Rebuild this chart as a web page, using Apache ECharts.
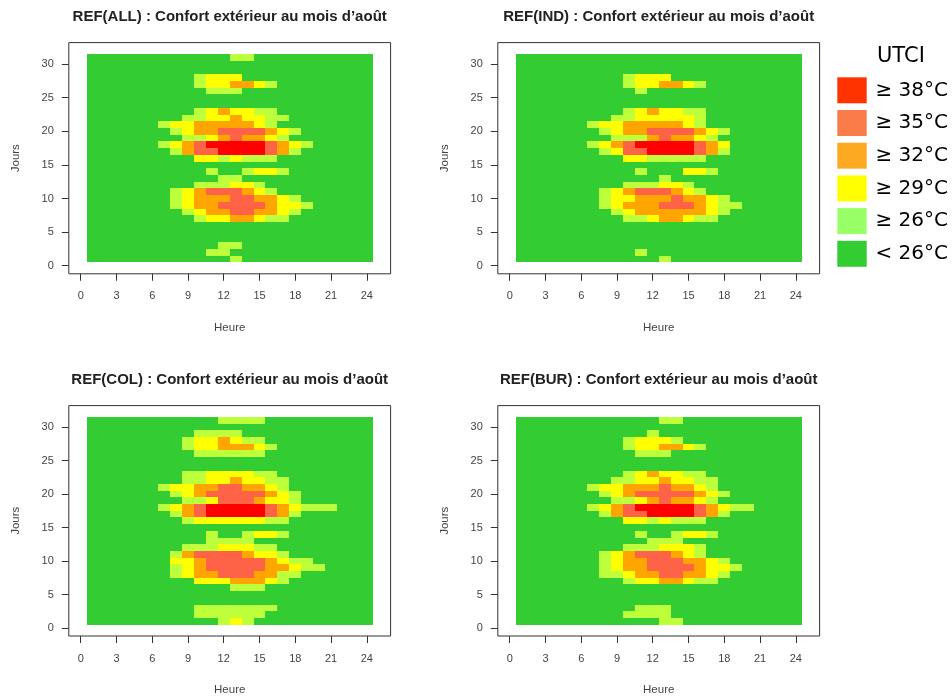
<!DOCTYPE html>
<html>
<head>
<meta charset="utf-8">
<script src="https://cdn.jsdelivr.net/npm/echarts@6/dist/echarts.min.js"></script>
<style>
  html, body { margin: 0; padding: 0; background: #fff; }
  #chart { width: 952px; height: 697px; }
</style>
</head>
<body>
<div id="chart"></div>
<script>
// axes: hours on x, days of August on y
const hours = [1, 2, 3, 4, 5, 6, 7, 8, 9, 10, 11, 12, 13, 14, 15, 16, 17, 18, 19, 20, 21, 22, 23, 24];
const days = [1, 2, 3, 4, 5, 6, 7, 8, 9, 10, 11, 12, 13, 14, 15, 16, 17, 18, 19, 20, 21, 22, 23, 24, 25, 26, 27, 28, 29, 30, 31];
const xTicks = [0, 3, 6, 9, 12, 15, 18, 21, 24];
const yTicks = [0, 5, 10, 15, 20, 25, 30];

// UTCI class per cell: 0 <26, 1 >=26, 2 >=29, 3 >=32, 4 >=35, 5 >=38
// one string per day (day 1 first), hours 1-6 | 7-12 | 13-18 | 19-24
const refAll = [
  "000000 000000 100000 000000",
  "000000 000011 000000 000000",
  "000000 000001 100000 000000",
  "000000 000000 000000 000000",
  "000000 000000 000000 000000",
  "000000 000000 000000 000000",
  "000000 000122 332110 000000",
  "000000 001233 443321 000000",
  "000000 012334 444322 100000",
  "000000 012333 443321 000000",
  "000000 012344 432100 000000",
  "000000 000111 221000 000000",
  "000000 000001 100000 000000",
  "000000 000010 012210 000000",
  "000000 000000 000000 000000",
  "000000 000221 211100 000000",
  "000000 013445 555431 000000",
  "000000 123455 555432 100000",
  "000000 001123 433210 000000",
  "000000 012334 444321 000000",
  "000000 122333 332100 000000",
  "000000 001122 322110 000000",
  "000000 000123 221100 000000",
  "000000 000000 000000 000000",
  "000000 000000 000000 000000",
  "000000 000011 100000 000000",
  "000000 000122 332100 000000",
  "000000 000122 200000 000000",
  "000000 000000 000000 000000",
  "000000 000000 000000 000000",
  "000000 000000 110000 000000"
];
const refInd = [
  "000000 000000 100000 000000",
  "000000 000010 000000 000000",
  "000000 000000 000000 000000",
  "000000 000000 000000 000000",
  "000000 000000 000000 000000",
  "000000 000000 000000 000000",
  "000000 000112 332110 000000",
  "000000 001233 333321 000000",
  "000000 012333 444321 100000",
  "000000 012233 343321 000000",
  "000000 012344 432100 000000",
  "000000 000111 221000 000000",
  "000000 000000 100000 000000",
  "000000 000010 002210 000000",
  "000000 000000 000000 000000",
  "000000 000221 111100 000000",
  "000000 012445 555431 000000",
  "000000 123455 555432 000000",
  "000000 001113 433210 000000",
  "000000 012334 444321 000000",
  "000000 122333 332100 000000",
  "000000 001122 222100 000000",
  "000000 000123 221100 000000",
  "000000 000000 000000 000000",
  "000000 000000 000000 000000",
  "000000 000010 000000 000000",
  "000000 000122 332100 000000",
  "000000 000122 200000 000000",
  "000000 000000 000000 000000",
  "000000 000000 000000 000000",
  "000000 000000 000000 000000"
];
const refCol = [
  "000000 000001 210000 000000",
  "000000 000111 111000 000000",
  "000000 000111 111100 000000",
  "000000 000000 000000 000000",
  "000000 000000 000000 000000",
  "000000 000000 111000 000000",
  "000000 000222 333210 000000",
  "000000 012334 443311 000000",
  "000000 012344 444332 110000",
  "000000 022344 444321 100000",
  "000000 013444 432210 000000",
  "000000 001112 221100 000000",
  "000000 000011 110000 000000",
  "000000 000010 012210 000000",
  "000000 000000 000000 000000",
  "000000 001222 222110 000000",
  "000000 013455 555431 000000",
  "000000 123455 555432 111000",
  "000000 001124 443221 000000",
  "000000 012344 444321 000000",
  "000000 122334 433210 000000",
  "000000 001122 322110 000000",
  "000000 001122 221100 000000",
  "000000 000000 000000 000000",
  "000000 000000 000000 000000",
  "000000 000111 111000 000000",
  "000000 001223 332100 000000",
  "000000 001223 211000 000000",
  "000000 000111 100000 000000",
  "000000 000000 000000 000000",
  "000000 000001 111000 000000"
];
const refBur = [
  "000000 000000 110000 000000",
  "000000 000111 100000 000000",
  "000000 000011 100000 000000",
  "000000 000000 000000 000000",
  "000000 000000 000000 000000",
  "000000 000000 000000 000000",
  "000000 000122 332110 000000",
  "000000 011233 443321 000000",
  "000000 012334 444322 100000",
  "000000 012334 443321 000000",
  "000000 012344 432100 000000",
  "000000 000111 222100 000000",
  "000000 000001 110000 000000",
  "000000 000010 012210 000000",
  "000000 000000 000000 000000",
  "000000 000221 211100 000000",
  "000000 013445 555431 000000",
  "000000 123455 555432 110000",
  "000000 001123 433210 000000",
  "000000 012344 444321 000000",
  "000000 122333 433210 000000",
  "000000 001122 322110 000000",
  "000000 000123 221100 000000",
  "000000 000000 000000 000000",
  "000000 000000 000000 000000",
  "000000 000011 100000 000000",
  "000000 000122 332100 000000",
  "000000 000122 210000 000000",
  "000000 000001 000000 000000",
  "000000 000000 000000 000000",
  "000000 000000 110000 000000"
];

const panelNames = ["REF(ALL)", "REF(IND)", "REF(COL)", "REF(BUR)"];
const panelGrids = [refAll, refInd, refCol, refBur];

// colours used in the maps, and in the separate legend
const levelColors = ["#33cc33", "#bcff3a", "#ffff00", "#ffa500", "#ff6347", "#ff0000"];
const legendLabels = ["\u2265 38°C", "\u2265 35°C", "\u2265 32°C", "\u2265 29°C", "\u2265 26°C", "< 26°C"];
const legendColors = ["#ff3300", "#f87b48", "#fdaa22", "#ffff00", "#99ff66", "#33cc33"];

// panel boxes (top-left corners)
const boxW = 321.8, boxH = 231.2;
const boxPos = [[68.8, 42.6], [497.8, 42.6], [68.8, 405.6], [497.8, 405.6]];

function toCells(rows) {
  const out = [];
  rows.forEach(function (row, d) {
    const s = row.replace(/ /g, "");
    for (let h = 0; h < hours.length; h++) {
      out.push([hours[h], days[d], +s[h]]);
    }
  });
  return out;
}

// snap cell edges to whole pixels so neighbours meet without seams
function renderCell(params, api) {
  const lvl = api.value(2);
  const p0 = api.coord([api.value(0) - 0.5, api.value(1) + 0.5]);
  const p1 = api.coord([api.value(0) + 0.5, api.value(1) - 0.5]);
  const x0 = Math.round(p0[0]), x1 = Math.round(p1[0]);
  const y0 = Math.round(p0[1]), y1 = Math.round(p1[1]);
  return {
    type: "rect",
    shape: { x: x0, y: y0, width: x1 - x0, height: y1 - y0 },
    style: { fill: levelColors[lvl] }
  };
}

const fontAxis = "Liberation Sans";
const titles = [], grids = [], xAxes = [], yAxes = [], series = [];

panelGrids.forEach(function (rows, i) {
  const [left, top] = boxPos[i];
  titles.push({
    text: panelNames[i] + " : Confort extérieur au mois d\u2019août",
    left: left + boxW / 2,
    top: top - 33,
    padding: 0,
    textAlign: "center",
    textStyle: { fontFamily: fontAxis, fontWeight: "bold", fontSize: 15, color: "#222" }
  });
  grids.push({
    left: left, top: top, width: boxW, height: boxH,
    show: true, borderColor: "#333", borderWidth: 1, backgroundColor: "transparent"
  });
  xAxes.push({
    gridIndex: i, type: "value", min: -1, max: 26,
    name: "Heure", nameLocation: "middle", nameGap: 48,
    nameTextStyle: { fontFamily: fontAxis, fontSize: 11.5, color: "#444" },
    axisLine: { show: false, onZero: false },
    splitLine: { show: false },
    axisTick: { show: true, length: 7, customValues: xTicks, lineStyle: { color: "#333" } },
    axisLabel: { customValues: xTicks, margin: 17, fontFamily: fontAxis, fontSize: 11, color: "#444" }
  });
  yAxes.push({
    gridIndex: i, type: "value", min: -1.2, max: 33.2,
    name: "Jours", nameLocation: "middle", nameGap: 47,
    nameTextStyle: { fontFamily: fontAxis, fontSize: 11.5, color: "#444" },
    axisLine: { show: false, onZero: false },
    splitLine: { show: false },
    axisTick: { show: true, length: 7, customValues: yTicks, lineStyle: { color: "#333" } },
    axisLabel: { customValues: yTicks, margin: 15, fontFamily: fontAxis, fontSize: 11, color: "#444" }
  });
  series.push({
    type: "custom",
    xAxisIndex: i, yAxisIndex: i,
    renderItem: renderCell,
    encode: { x: 0, y: 1 },
    silent: true,
    data: toCells(rows)
  });
});

// UTCI legend, drawn on the right
const legendItems = [{
  type: "text", left: 877, top: 46,
  style: { text: "UTCI", fontFamily: "DejaVu Sans", fontSize: 21, fill: "#000" }
}];
legendLabels.forEach(function (lab, i) {
  const y = 77.3 + i * 32.7;
  legendItems.push({
    type: "rect", shape: { x: 837.3, y: y, width: 29.4, height: 26 },
    style: { fill: legendColors[i] }
  });
  legendItems.push({
    type: "text", x: 875.5, y: y + 13,
    style: { text: lab, fontFamily: "DejaVu Sans", fontSize: 20, fill: "#000", verticalAlign: "middle" }
  });
});

const myChart = echarts.init(document.getElementById("chart"));
myChart.setOption({
  animation: false,
  backgroundColor: "#fff",
  title: titles,
  grid: grids,
  xAxis: xAxes,
  yAxis: yAxes,
  series: series,
  graphic: legendItems
});
</script>
</body>
</html>
